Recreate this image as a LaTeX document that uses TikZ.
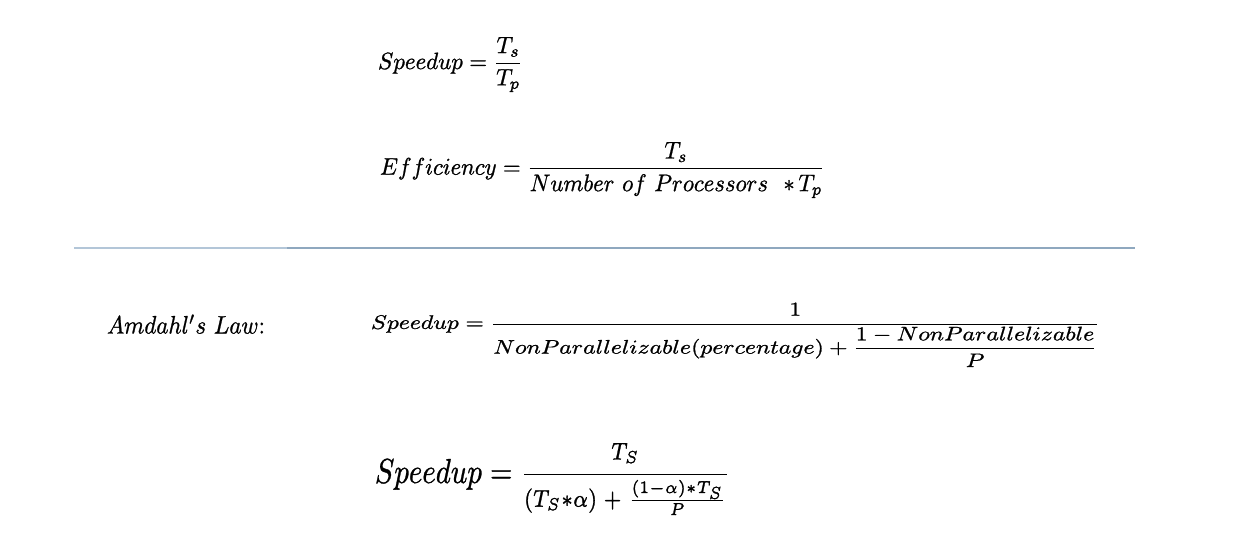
\documentclass[tikz,border=0pt]{standalone}
\usepackage{amsmath}
\usepackage{graphicx}
\definecolor{linelight}{HTML}{B3C6D8}
\definecolor{linedark}{HTML}{8FA8BF}
\newcommand{\heavyon}{\special{pdf:literal 2 Tr 0.1 w}}
\newcommand{\heavyoff}{\special{pdf:literal 0 Tr}}
\tikzset{
  formula/.style={anchor=west,inner sep=0pt,outer sep=0pt},
  rule/.style={line width=1.6pt}
}
\begin{document}
\begin{tikzpicture}[x=1pt,y=-1pt]
\fill[white] (0,0) rectangle (1252,552);
\useasboundingbox (0,0) rectangle (1252,552);

\node[formula] (f1) at (378,64.5) {\resizebox*{145pt}{55pt}{\heavyon$\displaystyle Speedup=\frac{T_s}{T_p}$\heavyoff}};

\node[formula] (f2) at (380,170) {\resizebox*{445pt}{56pt}{\heavyon$\displaystyle Efficiency=\frac{T_s}{Number\ of\ Processors\ \ {*}\,T_p}$\heavyoff}};

\coordinate (l0) at (74,248);
\coordinate (l1) at (287,248);
\coordinate (l2) at (1135,248);
\draw[rule,linelight] (l0) -- (l1);
\draw[rule,linedark] (l1) -- (l2);

\node[formula] (amd) at (107,324) {\resizebox*{158pt}{19pt}{\heavyon$Amdahl's\ Law$:\heavyoff}};

\node[formula] (f4) at (371,335) {\resizebox*{729pt}{64pt}{\heavyon$\displaystyle Speedup=\frac{1}{NonParallelizable(percentage)+\dfrac{1-NonParallelizable}{P}}$\heavyoff}};

\node[formula] (f5) at (375,479) {\resizebox*{355pt}{72pt}{\heavyon$\displaystyle Speedup=\frac{\scriptstyle T_S}{\scriptstyle (T_S{*}\alpha)\mskip5mu+\mskip5mu\genfrac{}{}{}{2}{(1-\alpha){*}T_S}{P}}$\heavyoff}};
\end{tikzpicture}
\end{document}
